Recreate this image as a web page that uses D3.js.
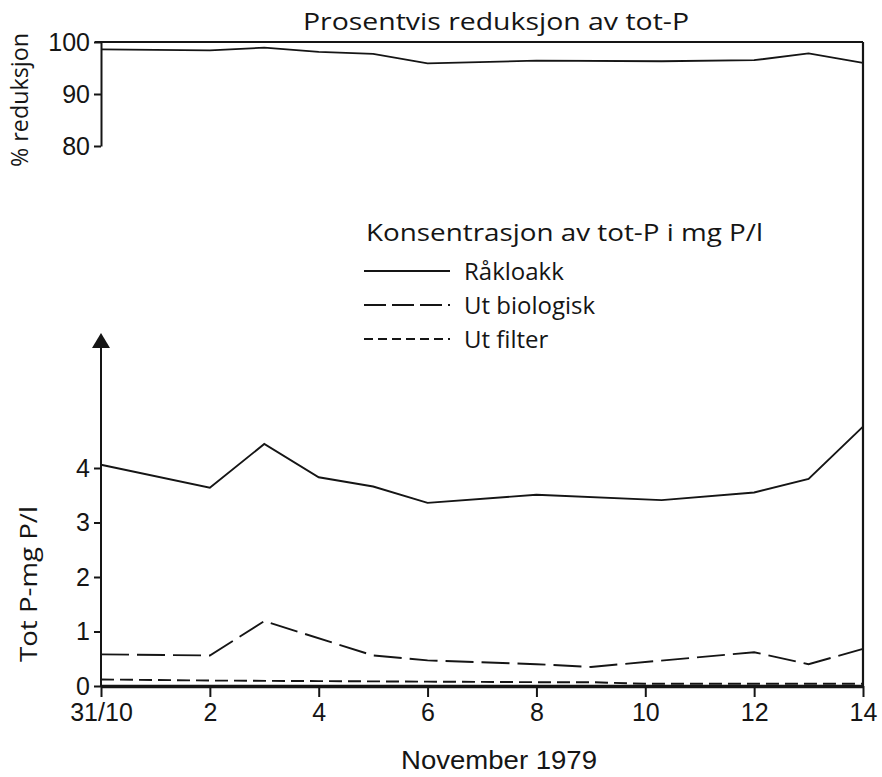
<!DOCTYPE html>
<html>
<head>
<meta charset="utf-8">
<script src="https://cdn.jsdelivr.net/npm/d3@7"></script>
<style>
  html, body { margin: 0; padding: 0; background: #fff; }
  svg { display: block; }
  .cond { font-family: 'Liberation Sans', Arial, sans-serif; }
  .reg { font-family: 'Open Sans', 'Liberation Sans', Arial, sans-serif; }
</style>
</head>
<body>
<svg id="chart" width="882" height="777"></svg>
<script>
// ---- data ----
const title = "Prosentvis reduksjon av tot-P";
const legendTitle = "Konsentrasjon av tot-P i mg P/l";
const topAxisLabel = "% reduksjon";
const bottomAxisLabel = "Tot P-mg P/l";
const xAxisLabel = "November 1979";

const xTickValues = [0, 2, 4, 6, 8, 10, 12, 14];
const xTickLabels = ["31/10", "2", "4", "6", "8", "10", "12", "14"];
const topTicks = [80, 90, 100];
const bottomTicks = [0, 1, 2, 3, 4];

// % reduction of tot-P
const reductionDays   = [0, 2, 3, 4, 5, 6, 8, 10.3, 12, 13, 14];
const reductionValues = [98.6, 98.4, 98.9, 98.1, 97.7, 95.9, 96.4, 96.3, 96.5, 97.8, 96.0];

// Råkloakk (raw sewage)
const rawDays   = [0, 2, 3, 4, 5, 6, 8, 10.3, 12, 13, 14];
const rawValues = [4.06, 3.64, 4.44, 3.83, 3.66, 3.36, 3.51, 3.41, 3.55, 3.80, 4.76];

// Ut biologisk
const bioDays   = [0, 2, 3, 5, 6, 8, 9, 12, 13, 14];
const bioValues = [0.58, 0.56, 1.19, 0.56, 0.47, 0.40, 0.35, 0.62, 0.40, 0.68];

// Ut filter
const filDays   = [0, 2, 4, 6, 8, 9, 10, 12, 14];
const filValues = [0.12, 0.10, 0.09, 0.08, 0.07, 0.07, 0.04, 0.04, 0.04];

const seriesNames = ["Råkloakk", "Ut biologisk", "Ut filter"];
const seriesDash  = [null, "28,8", "13,6"];
const legendDash  = [null, "22,6", "9,5"];

// ---- layout ----
const svg = d3.select("#chart");
const ink = "#151515";
svg.append("rect").attr("width", 882).attr("height", 777).attr("fill", "#fff");

// fit a text element to a target width (small glyph/spacing adjustment)
function fit(sel, w) {
  const n = sel.node().getComputedTextLength();
  if (Math.abs(n - w) > 2) sel.attr("textLength", w).attr("lengthAdjust", "spacingAndGlyphs");
  return sel;
}

const x = d3.scaleLinear().domain([0, 14]).range([101, 863]);
const yTop = d3.scaleLinear().domain([80, 100]).range([146, 42]);
const yBot = d3.scaleLinear().domain([0, 4]).range([686, 468]);
const arrowTipY = 333;

// title
fit(svg.append("text").attr("class", "reg")
  .attr("x", 496).attr("y", 30).attr("text-anchor", "middle")
  .attr("font-size", 24).attr("fill", ink)
  .text(title), 386);

// ---- top panel ----
const gTopAxis = svg.append("g").attr("transform", `translate(${x(0)},0)`).attr("class", "cond");
gTopAxis.call(d3.axisLeft(yTop).tickValues(topTicks).tickSize(7).tickSizeOuter(0).tickPadding(4));
gTopAxis.select(".domain").attr("stroke", ink).attr("stroke-width", 2);
gTopAxis.selectAll(".tick line").attr("stroke", ink).attr("stroke-width", 2);
gTopAxis.selectAll(".tick text").attr("font-size", 25).attr("fill", ink).attr("font-family", null);

// frame top line (100 %) and right edge
svg.append("line").attr("x1", x(0) - 6).attr("x2", x(14))
  .attr("y1", yTop(100)).attr("y2", yTop(100))
  .attr("stroke", ink).attr("stroke-width", 2.2);
svg.append("line").attr("x1", x(14)).attr("x2", x(14))
  .attr("y1", yTop(100)).attr("y2", yBot(0))
  .attr("stroke", ink).attr("stroke-width", 2.2);

const lineTop = d3.line().x(d => x(d[0])).y(d => yTop(d[1]));
svg.append("path")
  .datum(reductionDays.map((d, i) => [d, reductionValues[i]]))
  .attr("d", lineTop).attr("fill", "none").attr("stroke", ink).attr("stroke-width", 1.8);

fit(svg.append("text").attr("class", "reg")
  .attr("transform", `translate(28,100) rotate(-90)`)
  .attr("text-anchor", "middle").attr("font-size", 24).attr("fill", ink)
  .text(topAxisLabel), 134);

// ---- bottom panel ----
const gBotAxis = svg.append("g").attr("transform", `translate(${x(0)},0)`).attr("class", "cond");
gBotAxis.call(d3.axisLeft(yBot).tickValues(bottomTicks).tickFormat(d3.format("d"))
  .tickSize(7).tickSizeOuter(0).tickPadding(4));
gBotAxis.select(".domain").remove();
gBotAxis.selectAll(".tick line").attr("stroke", ink).attr("stroke-width", 2);
gBotAxis.selectAll(".tick text").attr("font-size", 25).attr("fill", ink).attr("font-family", null);

// vertical axis with arrow
svg.append("line").attr("x1", x(0)).attr("x2", x(0))
  .attr("y1", yBot(0)).attr("y2", arrowTipY + 12)
  .attr("stroke", ink).attr("stroke-width", 2);
svg.append("path")
  .attr("d", `M${x(0)},${arrowTipY} L${x(0) - 9},${arrowTipY + 15} L${x(0) + 9},${arrowTipY + 15} Z`)
  .attr("fill", ink);

// x axis
const gX = svg.append("g").attr("transform", `translate(0,${yBot(0)})`).attr("class", "cond");
gX.call(d3.axisBottom(x).tickValues(xTickValues)
  .tickFormat((d, i) => xTickLabels[i]).tickSize(11).tickSizeOuter(0).tickPadding(6));
gX.select(".domain").attr("stroke", ink).attr("stroke-width", 3.5);
gX.selectAll(".tick line").attr("stroke", ink).attr("stroke-width", 2);
gX.selectAll(".tick text").attr("font-size", 25).attr("fill", ink).attr("font-family", null);

fit(svg.append("text").attr("class", "cond")
  .attr("x", 499).attr("y", 769).attr("text-anchor", "middle")
  .attr("font-size", 26).attr("fill", ink)
  .text(xAxisLabel), 196);

fit(svg.append("text").attr("class", "reg")
  .attr("transform", `translate(37,584) rotate(-90)`)
  .attr("text-anchor", "middle").attr("font-size", 24).attr("fill", ink)
  .text(bottomAxisLabel), 156);

// data lines
const lineBot = d3.line().x(d => x(d[0])).y(d => yBot(d[1]));
const seriesData = [
  rawDays.map((d, i) => [d, rawValues[i]]),
  bioDays.map((d, i) => [d, bioValues[i]]),
  filDays.map((d, i) => [d, filValues[i]])
];
seriesData.forEach((data, k) => {
  svg.append("path").datum(data).attr("d", lineBot)
    .attr("fill", "none").attr("stroke", ink).attr("stroke-width", 1.9)
    .attr("stroke-dasharray", seriesDash[k]);
});

// legend
const lg = svg.append("g").attr("class", "reg");
fit(lg.append("text").attr("x", 366).attr("y", 241)
  .attr("font-size", 23).attr("fill", ink)
  .text(legendTitle), 397);
const legendRowY = d3.scalePoint().domain(seriesNames).range([271, 339]);
seriesNames.forEach((name, k) => {
  const yy = legendRowY(name);
  lg.append("line").attr("x1", 364).attr("x2", 450).attr("y1", yy).attr("y2", yy)
    .attr("stroke", ink).attr("stroke-width", 1.8).attr("stroke-dasharray", legendDash[k]);
  lg.append("text").attr("x", 464).attr("y", yy + 9)
    .attr("font-size", 24).attr("fill", ink).text(name);
});
</script>
</body>
</html>
